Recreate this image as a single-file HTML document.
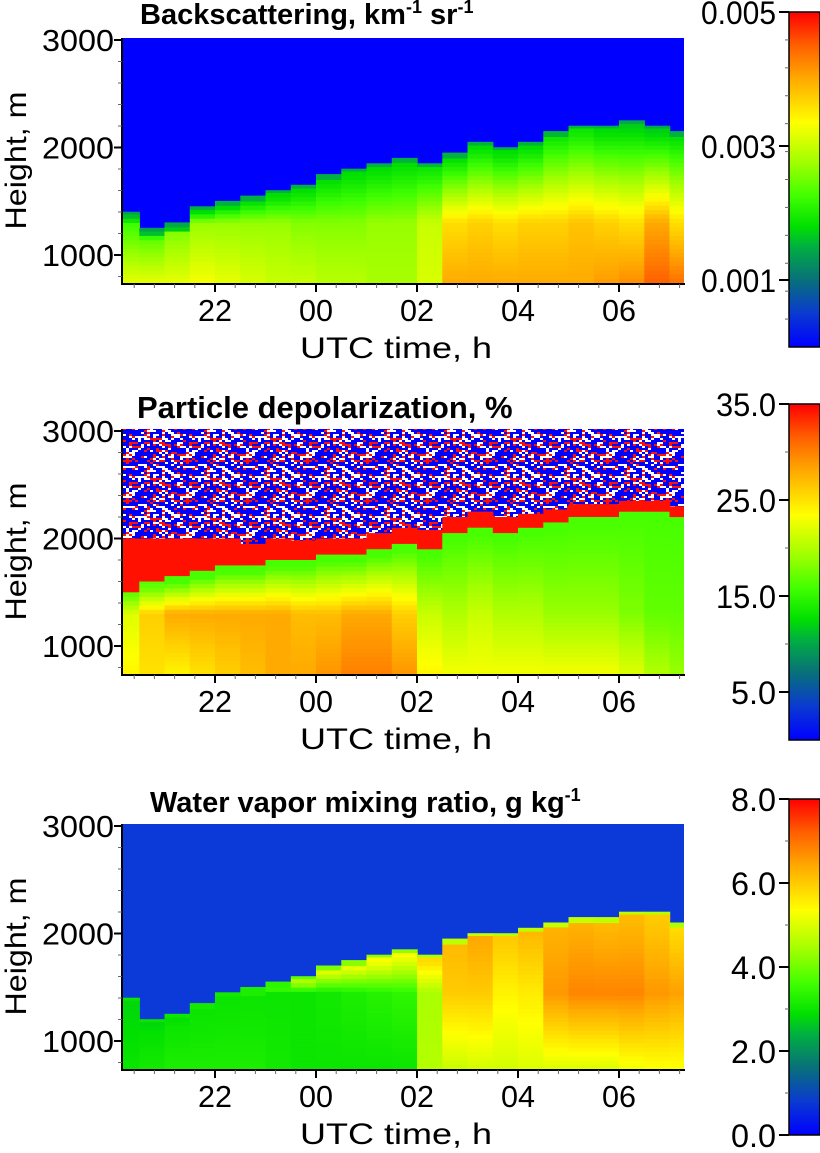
<!DOCTYPE html>
<html><head><meta charset="utf-8">
<style>
html,body{margin:0;padding:0;background:#fff;}
svg{display:block;font-family:"Liberation Sans",sans-serif;}
</style></head>
<body>
<svg id="fig" width="820" height="1153" viewBox="0 0 820 1153">
<defs>
<linearGradient id="cbar" x1="0" y1="1" x2="0" y2="0">
<stop offset="0" stop-color="#0000ff"/><stop offset="0.1" stop-color="#0a3ad0"/><stop offset="0.2" stop-color="#08707a"/>
<stop offset="0.3" stop-color="#00b040"/><stop offset="0.36" stop-color="#00e000"/><stop offset="0.45" stop-color="#40ff00"/>
<stop offset="0.55" stop-color="#a0ff00"/><stop offset="0.67" stop-color="#ffff00"/><stop offset="0.8" stop-color="#ffaa00"/>
<stop offset="0.9" stop-color="#ff6000"/><stop offset="1" stop-color="#ff0000"/>
</linearGradient>
<pattern id="noise" patternUnits="userSpaceOnUse" width="60" height="40"><g id="noiseTile"></g></pattern>
</defs>
<g id="panels"></g>
</svg>
<script>
// ---- data (column centres in hours since 00 of first day; 24.25 = 00:15) ----
const times = [20.25,20.75,21.25,21.75,22.25,22.75,23.25,23.75,24.25,24.75,25.25,25.75,26.25,26.75,27.25,27.75,28.25,28.75,29.25,29.75,30.25,30.75,31.25];
// Backscattering (km-1 sr-1)
const bsTop = [1400,1250,1300,1450,1500,1550,1600,1650,1750,1800,1850,1900,1850,1950,2050,2000,2050,2150,2200,2200,2250,2200,2150];
const bsValTop = [0.0016,0.0016,0.0017,0.0018,0.0018,0.0018,0.0018,0.0018,0.0018,0.0018,0.0018,0.0018,0.0019,0.0018,0.0018,0.0018,0.0018,0.0019,0.0019,0.0018,0.0017,0.0017,0.0018];
const bsValMid = [0.0022,0.0024,0.0026,0.0027,0.0027,0.0027,0.0027,0.0026,0.0026,0.0026,0.0027,0.0027,0.0030,0.0036,0.0037,0.0036,0.0037,0.0037,0.0038,0.0037,0.0036,0.0040,0.0036];
const bsValBot = [0.0032,0.0032,0.0032,0.0033,0.0032,0.0031,0.0030,0.0030,0.0029,0.0029,0.0028,0.0028,0.0031,0.0040,0.0040,0.0040,0.0040,0.0040,0.0040,0.0041,0.0042,0.0045,0.0044];
// Particle depolarization (%)
const dpTop = [1500,1600,1650,1700,1750,1750,1800,1800,1850,1850,1900,1950,1900,2050,2100,2050,2100,2150,2200,2200,2250,2250,2200];
const dpRed = [500,400,350,300,250,200,200,180,150,150,150,150,180,150,150,150,130,120,120,120,100,100,100];
const dpValTop = [18,17,16,16,16,16,16,16,16,16,16,16,16,16,16,16,16,16,16,16,16,16,16];
const dpValMid = [22,26,28,28,28,28,28,27,27,28,28,26,21,20,21,20,20,19,19,19,18,17,17];
const dpValBot = [24,25,24,25,26,27,28,28,29,30,30,29,24,23,23,23,23,23,23,23,22,20,19];
// Water vapor mixing ratio (g/kg)
const wvTop = [1400,1200,1250,1350,1450,1500,1550,1600,1700,1750,1800,1850,1800,1950,2000,2000,2050,2100,2150,2150,2200,2200,2100];
const wvValTop = [2.8,2.8,2.9,3.0,3.0,3.2,3.6,4.5,5.0,5.2,5.3,5.3,5.8,6.2,6.4,6.0,6.2,6.3,6.3,6.2,6.2,6.0,5.8];
const wvValMid = [2.8,2.9,3.0,3.0,3.0,3.0,3.0,3.0,3.1,3.2,3.3,3.4,4.5,6.0,6.0,5.5,5.6,6.6,6.8,6.8,6.8,6.6,6.5];
const wvValBot = [3.0,3.1,3.2,3.2,3.2,3.2,3.1,3.0,3.0,3.0,3.0,3.0,4.6,4.8,4.9,4.9,5.0,5.0,5.0,5.0,5.2,5.3,5.3];
const yTicks = [1000,2000,3000];
const xTickHours = [22,24,26,28,30];
const xTickLabels = ["22","00","02","04","06"];
const bsCbTicks = [0.001,0.003,0.005], bsCbLabels = ["0.001","0.003","0.005"];
const dpCbTicks = [5,15,25,35], dpCbLabels = ["5.0","15.0","25.0","35.0"];
const wvCbTicks = [0,2,4,6,8], wvCbLabels = ["0.0","2.0","4.0","6.0","8.0"];

const NS="http://www.w3.org/2000/svg";
const root=document.getElementById('panels');
function mk(tag,attrs,parent){const e=document.createElementNS(NS,tag);for(const k in attrs)e.setAttribute(k,attrs[k]);(parent||root).appendChild(e);return e;}
const cmStops=[[0,[0,0,255]],[0.1,[10,58,208]],[0.2,[8,112,122]],[0.3,[0,176,64]],[0.36,[0,224,0]],[0.45,[64,255,0]],[0.55,[160,255,0]],[0.67,[255,255,0]],[0.8,[255,170,0]],[0.9,[255,96,0]],[1,[255,0,0]]];
function cmap(t){t=Math.max(0,Math.min(1,t));for(let i=1;i<cmStops.length;i++){if(t<=cmStops[i][0]){const a=cmStops[i-1],b=cmStops[i];const f=(t-a[0])/(b[0]-a[0]);const c=a[1].map((v,k)=>Math.round(v+(b[1][k]-v)*f));return `rgb(${c[0]},${c[1]},${c[2]})`;}}return 'rgb(255,0,0)';}
const xOf=h=>215+(h-22)*50.5;
const X0=122,X1=684;

// noise tile (texture only)
(function(){const g=document.getElementById('noiseTile');let s=12345;const r=()=>{s=(s*1103515245+12345)&0x7fffffff;return s/0x7fffffff;};
mk('rect',{x:0,y:0,width:60,height:40,fill:'#0000ff'},g);
for(let yy=0;yy<40;yy+=2)for(let xx=0;xx<60;xx+=3){const v=r();if(v<0.27)mk('rect',{x:xx,y:yy,width:3,height:2,fill:'#ffffff'},g);else if(v<0.45)mk('rect',{x:xx,y:yy,width:3,height:2,fill:'#ff1000'},g);}})();

function lerp(a,b,f){return a+(b-a)*f;}
function panel(cfg){
  const yOf=h=>cfg.off+(3000-h)*0.1075;
  const top=cfg.off-2,bot=cfg.off+243;
  const g=mk('g',{});
  
  
  const clip=mk('clipPath',{id:'clip'+cfg.name});mk('rect',{x:X0,y:top,width:X1-X0,height:bot-top},clip);
  g.setAttribute('clip-path','url(#clip'+cfg.name+')');
  mk('rect',{x:X0,y:top,width:X1-X0,height:bot-top,fill:cfg.aboveFill},g);
  const step=40;
  for(let i=0;i<times.length;i++){
    const xa=xOf(times[i]-0.25),xb=xOf(times[i]+0.25);
    const T=cfg.top[i],midH=Math.min(cfg.midH,T-100);
    for(let h=740;h<T;h+=step){
      const hc=h+step/2;let v;
      if(hc<midH)v=lerp(cfg.bot[i],cfg.mid[i],(hc-740)/(midH-740));
      else v=lerp(cfg.mid[i],cfg.vtop[i],Math.min(1,(hc-midH)/Math.max(1,T-60-midH)));
      if(hc>T-40)v=lerp(v,cfg.edge,0.5);
      const hh=Math.min(step,T-h);
      const r=mk('rect',{x:xa.toFixed(1),y:(yOf(h+hh)-0.3).toFixed(1),width:(xb-xa+0.6).toFixed(1),height:(hh*0.1075+0.6).toFixed(1),fill:cmap(v/cfg.max)},g);
      
      
    }
    if(cfg.red){const R=cfg.red[i];
      const r=mk('rect',{x:xa.toFixed(1),y:yOf(T+R).toFixed(1),width:(xb-xa+0.6).toFixed(1),height:(R*0.1075).toFixed(1),fill:'#ff1000'},g);
      
      }
  }
  // axes
  mk('line',{x1:X0,y1:top,x2:X0,y2:bot+1,stroke:'#000','stroke-width':2});
  mk('line',{x1:X0-1,y1:bot+1,x2:X1+1,y2:bot+1,stroke:'#000','stroke-width':2});
  for(let h=800;h<=3000;h+=200){const y=yOf(h);const major=h%1000===0;mk('line',{x1:major?X0-8:X0-4,y1:y,x2:X0,y2:y,stroke:major?'#000':'#666','stroke-width':major?2:1});}
  yTicks.forEach(h=>{const t=mk('text',{x:114,y:yOf(h)+11,'text-anchor':'end','font-size':31,textLength:72,lengthAdjust:'spacingAndGlyphs'});t.textContent=h;
    });
  for(let h=20.4;h<31.4;h+=0.4){const x=xOf(h);mk('line',{x1:x,y1:bot+1,x2:x,y2:bot+5,stroke:'#666','stroke-width':1});}
  xTickHours.forEach((h,k)=>{const x=xOf(h);mk('line',{x1:x,y1:bot+1,x2:x,y2:bot+9,stroke:'#000','stroke-width':2});
    const t=mk('text',{x:x,y:bot+38,'text-anchor':'middle','font-size':31,textLength:34,lengthAdjust:'spacingAndGlyphs'});t.textContent=xTickLabels[k];
    });
  const xl=mk('text',{x:396,y:bot+75,'text-anchor':'middle','font-size':30,textLength:192,lengthAdjust:'spacingAndGlyphs'});xl.textContent='UTC time, h';
  
  const yc=(top+bot)/2;
  const yl=mk('text',{x:0,y:0,'text-anchor':'middle','font-size':30,textLength:138,lengthAdjust:'spacingAndGlyphs',transform:`translate(26,${yc}) rotate(-90)`});yl.textContent='Height, m';
  
  // title
  const tt=mk('text',{x:cfg.tx,y:cfg.ty,'font-size':cfg.tfs,'font-weight':'bold'});tt.innerHTML=cfg.title;
  
  // colorbar
  const cb=mk('rect',{x:789,y:cfg.cb0,width:31,height:cfg.cb1-cfg.cb0,fill:'url(#cbar)',stroke:'#000','stroke-width':1.5});
  
  const cy=v=>cfg.cb1-(v/cfg.max)*(cfg.cb1-cfg.cb0);
  for(let k=1;k<cfg.nMinor;k++){const y=cfg.cb0+(cfg.cb1-cfg.cb0)*k/cfg.nMinor;mk('line',{x1:785,y1:y,x2:789,y2:y,stroke:'#666','stroke-width':1});}
  cfg.cbT.forEach((v,k)=>{const y=cy(v);mk('line',{x1:779,y1:y,x2:789,y2:y,stroke:'#000','stroke-width':2});
    const t=mk('text',{x:776,y:y+12,'text-anchor':'end','font-size':32,textLength:cfg.cbL[k].length*15,lengthAdjust:'spacingAndGlyphs'});t.textContent=cfg.cbL[k];
    });
}
panel({name:'backscatter',off:40,top:bsTop,vtop:bsValTop,mid:bsValMid,bot:bsValBot,midH:1300,edge:0.0012,max:0.005,aboveFill:'#0000ff',
  title:'Backscattering, km<tspan dy="-11" font-size="18">-1</tspan><tspan dy="11"> sr</tspan><tspan dy="-11" font-size="18">-1</tspan>',tx:140,ty:24,tfs:29,
  cb0:12,cb1:347,cbT:bsCbTicks,cbL:bsCbLabels,nMinor:12});
panel({name:'depolarization',off:431,top:dpTop,vtop:dpValTop,mid:dpValMid,bot:dpValBot,midH:1300,edge:16,max:35,aboveFill:'url(#noise)',red:dpRed,
  title:'Particle depolarization, %',tx:137,ty:418,tfs:31,cb0:404,cb1:740,cbT:dpCbTicks,cbL:dpCbLabels,nMinor:7});
panel({name:'water-vapor',off:826,top:wvTop,vtop:wvValTop,mid:wvValMid,bot:wvValBot,midH:1450,edge:3.2,max:8,aboveFill:'#0c3ad8',
  title:'Water vapor mixing ratio, g kg<tspan dy="-11" font-size="18">-1</tspan>',tx:150,ty:812,tfs:29,cb0:799,cb1:1135,cbT:wvCbTicks,cbL:wvCbLabels,nMinor:8});
</script>
</body></html>
